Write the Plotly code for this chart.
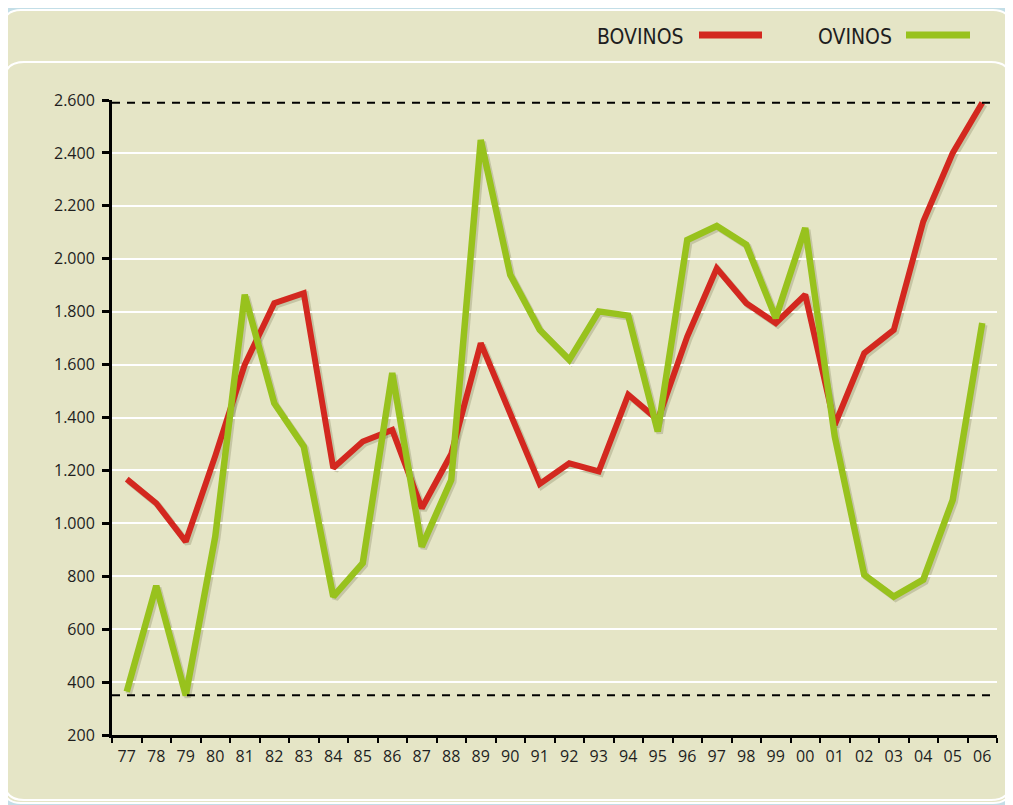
import plotly.graph_objects as go

years = ["77", "78", "79", "80", "81", "82", "83", "84", "85", "86",
         "87", "88", "89", "90", "91", "92", "93", "94", "95", "96",
         "97", "98", "99", "00", "01", "02", "03", "04", "05", "06"]
bovinos = [1167, 1076, 931, 1255, 1600, 1832, 1870, 1209, 1309, 1353,
           1057, 1262, 1681, 1415, 1149, 1227, 1196, 1486, 1391, 1706,
           1964, 1832, 1757, 1864, 1372, 1643, 1731, 2141, 2400, 2590]
ovinos = [364, 764, 350, 950, 1864, 1454, 1290, 723, 850, 1568,
          912, 1164, 2449, 1939, 1731, 1618, 1801, 1785, 1347, 2071,
          2124, 2053, 1776, 2116, 1328, 805, 723, 787, 1089, 1757]
y_ticks = [200, 400, 600, 800, 1000, 1200, 1400, 1600, 1800, 2000, 2200, 2400, 2600]
y_labels = ["200", "400", "600", "800", "1.000", "1.200", "1.400", "1.600",
            "1.800", "2.000", "2.200", "2.400", "2.600"]
series_names = ["BOVINOS", "OVINOS"]

RED = "#d3281f"
GREEN = "#98c21d"
BEIGE = "#e5e5c6"
BLUE = "#c3dee7"
SHADOW = "rgba(70,70,30,0.2)"

OFF = 8  # page body margin of the browser
W, H = 1013 - OFF, 805 - OFF
ML, MR, MT, MB = 112 - OFF, 13, 100 - OFF, 67
PW, PH = W - ML - MR, H - MT - MB


def px(x):
    # page pixel -> paper x
    return (x - OFF - ML) / PW


def py(y):
    # page pixel -> paper y
    return (H - MB - (y - OFF)) / PH


def rrect(x0, y0, x1, y1, r):
    pts = [
        f"M {px(x0 + r)},{py(y0)}",
        f"L {px(x1 - r)},{py(y0)}",
        f"Q {px(x1)},{py(y0)} {px(x1)},{py(y0 + r)}",
        f"L {px(x1)},{py(y1 - r)}",
        f"Q {px(x1)},{py(y1)} {px(x1 - r)},{py(y1)}",
        f"L {px(x0 + r)},{py(y1)}",
        f"Q {px(x0)},{py(y1)} {px(x0)},{py(y1 - r)}",
        f"L {px(x0)},{py(y0 + r)}",
        f"Q {px(x0)},{py(y0)} {px(x0 + r)},{py(y0)}",
        "Z",
    ]
    return " ".join(pts)


fig = go.Figure()

# soft shadows (drawn first, on slightly shifted hidden axes)
for vals in (ovinos, bovinos):
    fig.add_trace(go.Scatter(x=years, y=vals, mode="lines", xaxis="x", yaxis="y",
                             line=dict(color=SHADOW, width=6.5), showlegend=False,
                             hoverinfo="skip"))

# main lines
fig.add_trace(go.Scatter(x=years, y=bovinos, name=series_names[0], mode="lines",
                         xaxis="x2", yaxis="y2",
                         line=dict(color=RED, width=6), showlegend=False))
fig.add_trace(go.Scatter(x=years, y=ovinos, name=series_names[1], mode="lines",
                         xaxis="x2", yaxis="y2",
                         line=dict(color=GREEN, width=6.5), showlegend=False))

tick_font = dict(family="Open Sans, Lato, sans-serif", size=16, color="#1e1e1e")
leg_font = dict(family="Liberation Sans Narrow, DejaVu Sans Condensed, sans-serif",
                size=21, color="#1e1e1e")

shapes = [
    dict(type="path", xref="paper", yref="paper", layer="below",
         path=rrect(3, 10, 1011, 803, 18), fillcolor=BEIGE,
         line=dict(color="white", width=2)),
    dict(type="path", xref="paper", yref="paper", layer="below",
         path=rrect(4, 62, 1011, 800, 20), fillcolor=BEIGE,
         line=dict(color="white", width=2)),
    dict(type="line", xref="x2 domain", yref="y2", x0=0, x1=1,
         y0=max(bovinos + ovinos), y1=max(bovinos + ovinos),
         line=dict(color="black", width=2, dash="8px,7px")),
    dict(type="line", xref="x2 domain", yref="y2", x0=0, x1=1,
         y0=min(bovinos + ovinos), y1=min(bovinos + ovinos),
         line=dict(color="black", width=2, dash="8px,7px")),
    dict(type="line", xref="paper", yref="paper", x0=px(699), x1=px(762),
         y0=py(35), y1=py(35), line=dict(color=RED, width=7)),
    dict(type="line", xref="paper", yref="paper", x0=px(906), x1=px(970),
         y0=py(35), y1=py(35), line=dict(color=GREEN, width=7)),
]

annotations = [
    dict(text=series_names[0], xref="paper", yref="paper", x=px(686), y=py(37),
         xanchor="right", yanchor="middle", showarrow=False, font=leg_font),
    dict(text=series_names[1], xref="paper", yref="paper", x=px(894), y=py(37),
         xanchor="right", yanchor="middle", showarrow=False, font=leg_font),
]

fig.update_layout(
    width=W, height=H,
    margin=dict(l=ML, r=MR, t=MT, b=MB, pad=0),
    paper_bgcolor=BLUE,
    plot_bgcolor="rgba(0,0,0,0)",
    shapes=shapes,
    annotations=annotations,
    showlegend=False,
    xaxis=dict(domain=[2 / PW, (PW - 1) / PW], type="category", range=[-0.5, 29.5],
               visible=False, anchor="y"),
    yaxis=dict(domain=[1 / PH, (PH - 2) / PH], range=[200, 2600], visible=False,
               anchor="x"),
    xaxis2=dict(domain=[0, (PW - 3) / PW], type="category", range=[-0.5, 29.5],
                anchor="y2", showline=True, linecolor="black", linewidth=3,
                ticks="outside", tickson="boundaries", ticklen=5, tickwidth=2,
                tickcolor="black", showgrid=False, tickfont=tick_font,
                ticklabelstandoff=5, fixedrange=True),
    yaxis2=dict(domain=[3 / PH, 1], range=[200, 2600], anchor="x2",
                showline=True, linecolor="black", linewidth=3,
                ticks="outside", ticklen=7, tickwidth=3, tickcolor="black",
                tickvals=y_ticks, ticktext=y_labels, tickfont=tick_font,
                ticklabelstandoff=4,
                showgrid=True, gridcolor="white", gridwidth=2, zeroline=False,
                fixedrange=True),
)

fig.write_html("out.html")
